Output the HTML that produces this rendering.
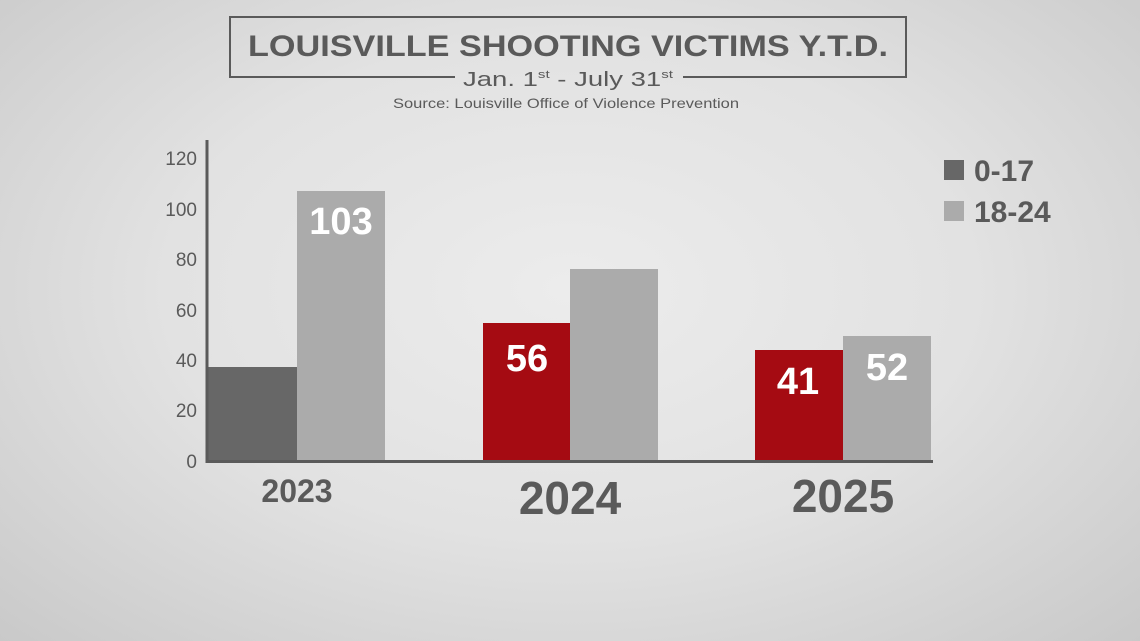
<!DOCTYPE html>
<html><head><meta charset="utf-8"><style>
html,body{margin:0;padding:0;width:1140px;height:641px;overflow:hidden}
body{background:radial-gradient(ellipse at 50% 45%,#ececec 0%,#e2e2e2 50%,#c9c9c9 100%)}
svg{position:absolute;left:0;top:0}
text{font-family:"Liberation Sans",sans-serif;font-weight:bold}
text.n{font-weight:normal}
</style></head><body>
<svg width="1140" height="641" viewBox="0 0 1140 641">
<path d="M455 77 H230 V17 H906 V77 H683" fill="none" stroke="#5a5a5a" stroke-width="2"/>
<text x="568" y="56" text-anchor="middle" font-size="30" fill="#5a5a5a" textLength="640" lengthAdjust="spacingAndGlyphs">LOUISVILLE SHOOTING VICTIMS Y.T.D.</text>
<text class="n" x="568" y="86" text-anchor="middle" font-size="20" fill="#5a5a5a" textLength="210" lengthAdjust="spacingAndGlyphs">Jan. 1<tspan font-size="11" dy="-8">st</tspan><tspan dy="8"> - July 31</tspan><tspan font-size="11" dy="-8">st</tspan></text>
<text class="n" x="566" y="108" text-anchor="middle" font-size="14" fill="#5a5a5a" textLength="346" lengthAdjust="spacingAndGlyphs">Source: Louisville Office of Violence Prevention</text>
<g font-size="19" fill="#5a5a5a" text-anchor="end">
<text class="n" x="197" y="165">120</text><text class="n" x="197" y="216">100</text><text class="n" x="197" y="266">80</text>
<text class="n" x="197" y="317">60</text><text class="n" x="197" y="367">40</text><text class="n" x="197" y="417">20</text><text class="n" x="197" y="468">0</text>
</g>
<rect x="208" y="367" width="89" height="94" fill="#676767"/>
<rect x="297" y="191" width="88" height="270" fill="#ababab"/>
<rect x="483" y="323" width="87" height="138" fill="#a50b12"/>
<rect x="570" y="269" width="88" height="192" fill="#ababab"/>
<rect x="755" y="350" width="88" height="111" fill="#a50b12"/>
<rect x="843" y="336" width="88" height="125" fill="#ababab"/>
<line x1="207" y1="140" x2="207" y2="463" stroke="#5a5a5a" stroke-width="3"/>
<line x1="206" y1="461.5" x2="933" y2="461.5" stroke="#5a5a5a" stroke-width="3"/>
<g fill="#fff" text-anchor="middle" font-size="38">
<text x="341" y="234">103</text><text x="527" y="371">56</text>
<text x="798" y="394">41</text><text x="887" y="380">52</text>
</g>
<g fill="#5a5a5a" text-anchor="middle">
<text x="297" y="502" font-size="32">2023</text>
<text x="570" y="514" font-size="46">2024</text>
<text x="843" y="512" font-size="46">2025</text>
</g>
<rect x="944" y="160" width="20" height="20" fill="#676767"/>
<rect x="944" y="201" width="20" height="20" fill="#ababab"/>
<g fill="#5a5a5a" font-size="30">
<text x="974" y="181">0-17</text><text x="974" y="222">18-24</text>
</g>
</svg>
</body></html>
